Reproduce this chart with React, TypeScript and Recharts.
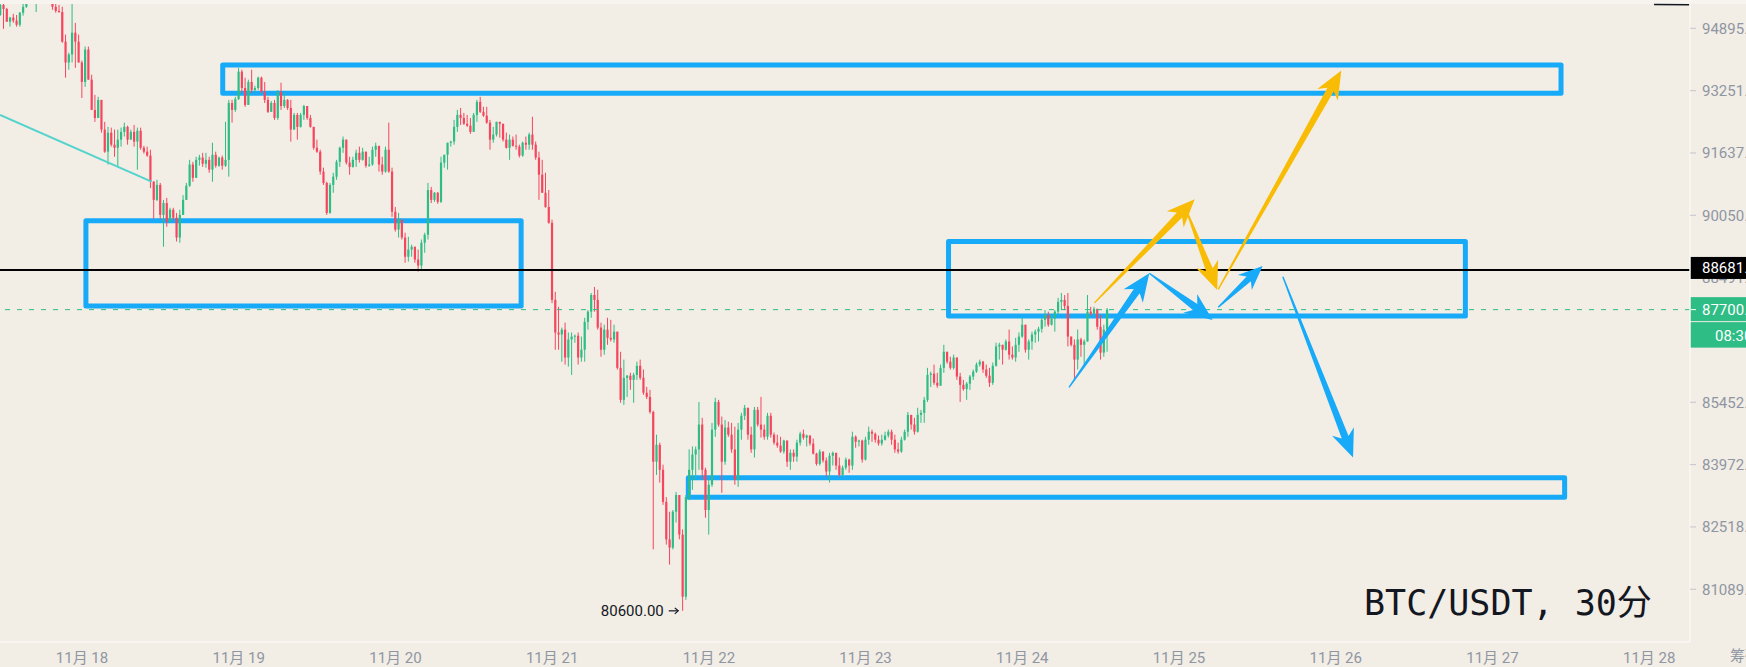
import {
  ComposedChart,
  Bar,
  XAxis,
  YAxis,
  ReferenceLine,
  ReferenceArea,
  ReferenceDot,
} from "recharts";

type Ohlc = [number, number, number, number]; // open, high, low, close

// 30分 K线, bar 0 = 11月18 00:00 (the first 25 bars are the end of 11月17)
const FIRST_BAR = -25;

const nov17: Ohlc[] = [
  [95250, 95570, 95230, 95520], [95520, 95550, 94880, 95410], [95410, 95440, 95070, 95070],
  [95070, 95200, 94940, 95180], [95180, 95280, 95040, 95100], [95100, 95250, 94940, 94990],
  [94990, 95330, 94940, 95310], [95310, 95570, 95230, 95470], [95470, 95650, 95440, 95600],
  [95600, 95920, 95570, 95810], [95810, 95970, 95700, 95760], [95760, 95970, 95330, 95860],
  [95860, 96080, 95780, 95970], [95970, 96050, 95730, 95840], [95840, 96020, 95760, 95920],
  [95920, 95970, 95650, 95730], [95730, 95810, 95390, 95470], [95470, 95570, 95310, 95360],
  [95360, 95520, 95310, 95330], [95330, 95470, 94510, 94540], [94540, 94730, 93590, 93990],
  [93990, 94250, 93800, 94200], [94200, 95650, 93990, 94780], [94780, 95040, 93850, 94540],
  [94540, 94730, 93990, 93990],
];

const nov18: Ohlc[] = [
  [93990, 94040, 93060, 93480], [93480, 94410, 93350, 94330], [94330, 94410, 93540, 93540],
  [93540, 93670, 92750, 92750], [92750, 93140, 92440, 92540], [92540, 93090, 92540, 93010],
  [93010, 93010, 92160, 92240], [92240, 92440, 91640, 91670], [91670, 92310, 91340, 92160],
  [92160, 92290, 91800, 91850], [91850, 92240, 91540, 91770], [91770, 92240, 91280, 91980],
  [91980, 92290, 91800, 92180], [92180, 92420, 92060, 92310], [92310, 92340, 91850, 91980],
  [91980, 92240, 91980, 92180], [92180, 92360, 91800, 91930], [91930, 92290, 91210, 92210],
  [92210, 92290, 91720, 91770], [91770, 91820, 91620, 91670], [91670, 91800, 91540, 91570],
  [91570, 91720, 90740, 90900], [90900, 90920, 89960, 90440], [90440, 90950, 90410, 90820],
  [90820, 90870, 89940, 90060], [90060, 90440, 89260, 90360], [90360, 90490, 89760, 89890],
  [89890, 90240, 89890, 90190], [90190, 90240, 89940, 89990], [89990, 90110, 89390, 89490],
  [89490, 90190, 89360, 90060], [90060, 90560, 90060, 90440], [90440, 90870, 90440, 90800],
  [90800, 91460, 90770, 91340], [91340, 91410, 90900, 91000], [91000, 91540, 91000, 91460],
  [91460, 91590, 91310, 91520], [91520, 91640, 91280, 91360], [91360, 91640, 91260, 91460],
  [91460, 91540, 91130, 91210], [91210, 91900, 90900, 91590], [91590, 91670, 91260, 91310],
  [91310, 91540, 91280, 91520], [91520, 91570, 91210, 91310], [91310, 92440, 91280, 91460],
  [91460, 93010, 91030, 92930], [92930, 93010, 92420, 92750], [92750, 93090, 92700, 93030],
];

const nov19: Ohlc[] = [
  [93030, 93850, 93010, 93750], [93750, 93800, 93190, 93320], [93320, 93590, 92830, 92880],
  [92880, 93540, 92880, 93480], [93480, 93800, 93190, 93270], [93270, 93380, 93220, 93320],
  [93320, 93620, 93270, 93590], [93590, 93620, 93190, 93220], [93220, 93480, 92930, 93010],
  [93010, 93090, 92670, 92700], [92700, 92980, 92700, 92930], [92930, 93010, 92490, 92540],
  [92540, 93270, 92490, 93220], [93220, 93460, 92750, 92850], [92850, 93190, 92800, 93010],
  [93010, 93030, 92750, 92800], [92800, 93010, 91930, 92240], [92240, 92670, 92240, 92620],
  [92620, 92670, 91980, 92310], [92310, 92670, 92290, 92620], [92620, 92880, 92490, 92850],
  [92850, 92850, 92490, 92540], [92540, 92620, 92290, 92310], [92310, 92310, 91720, 91770],
  [91770, 91980, 91640, 91670], [91670, 91720, 91080, 91160], [91160, 91260, 90820, 90870],
  [90870, 90900, 90060, 90110], [90110, 90870, 90090, 90820], [90820, 91130, 90620, 91030],
  [91030, 91460, 90950, 91410], [91410, 91800, 91280, 91770], [91770, 92060, 91640, 91980],
  [91980, 91980, 91340, 91390], [91390, 91540, 91080, 91280], [91280, 91540, 91260, 91460],
  [91460, 91720, 91280, 91640], [91640, 91800, 91390, 91460], [91460, 91770, 91440, 91670],
  [91670, 91670, 91260, 91310], [91310, 91540, 91280, 91340], [91340, 91800, 91310, 91720],
  [91720, 91900, 91540, 91820], [91820, 91820, 91160, 91340], [91340, 91540, 91080, 91160],
  [91160, 91800, 91130, 91720], [91720, 92420, 91130, 91160], [91160, 91260, 90010, 90140],
];

const nov20: Ohlc[] = [
  [90140, 90260, 89640, 89690], [89690, 90110, 89490, 89940], [89940, 89940, 89440, 89490],
  [89490, 89610, 88860, 89010], [89010, 89510, 88890, 89190], [89190, 89310, 89010, 89260],
  [89260, 89260, 88860, 88940], [88940, 89190, 88640, 88790], [88790, 89440, 88690, 89360],
  [89360, 89610, 89110, 89560], [89560, 90870, 89440, 90690], [90690, 90770, 90360, 90440],
  [90440, 90640, 90390, 90620], [90620, 90640, 90340, 90390], [90390, 91540, 90360, 91390],
  [91390, 91590, 91260, 91590], [91590, 91900, 91210, 91900], [91900, 91950, 91800, 91930],
  [91930, 92490, 91850, 92310], [92310, 92750, 92180, 92620], [92620, 92800, 92360, 92540],
  [92540, 92670, 92360, 92390], [92390, 92620, 92310, 92340], [92340, 92540, 92130, 92180],
  [92180, 92670, 92180, 92620], [92620, 93010, 92440, 92960], [92960, 93090, 92670, 92700],
  [92700, 92830, 92570, 92600], [92600, 92830, 92390, 92420], [92420, 92490, 91720, 91980],
  [91980, 92310, 91900, 92110], [92110, 92440, 92060, 92440], [92440, 92440, 92030, 92390],
  [92390, 92390, 91930, 91980], [91980, 92160, 91750, 91770], [91770, 92110, 91460, 91980],
  [91980, 92060, 91800, 91820], [91820, 92110, 91720, 91800], [91800, 91850, 91520, 91570],
  [91570, 91930, 91540, 91900], [91900, 92060, 91720, 91850], [91850, 92160, 91720, 92110],
  [92110, 92570, 91720, 91850], [91850, 91930, 91460, 91520], [91520, 91670, 90440, 91080],
  [91080, 91460, 90620, 90620], [90620, 91130, 90240, 90260], [90260, 90690, 89840, 89860],
];

const nov21: Ohlc[] = [
  [89860, 89940, 87860, 87940], [87940, 88140, 86720, 87140], [87140, 87770, 86720, 87090],
  [87090, 87260, 86430, 87210], [87210, 87380, 86360, 86530], [86530, 87140, 86310, 86970],
  [86970, 87140, 86110, 87040], [87040, 87090, 86890, 87060], [87060, 87140, 86360, 86530],
  [86530, 87040, 86430, 86720], [86720, 87500, 86430, 87400], [87400, 87690, 87210, 87650],
  [87650, 88110, 87500, 88060], [88060, 88260, 87650, 87940], [87940, 88190, 87210, 87260],
  [87260, 87380, 86550, 86720], [86720, 87330, 86600, 87210], [87210, 87500, 86840, 87010],
  [87010, 87450, 86920, 86970], [86970, 87330, 86890, 87160], [87160, 87160, 86240, 86280],
  [86280, 86670, 85440, 85510], [85510, 86480, 85390, 86040], [86040, 86110, 85580, 86090],
  [86090, 86160, 85750, 85990], [85990, 86160, 85440, 86110], [86110, 86430, 85990, 86330],
  [86330, 86480, 85990, 86040], [86040, 86240, 85630, 85680], [85680, 85820, 85530, 85580],
  [85580, 85750, 85180, 85220], [85220, 85250, 82000, 84040], [84040, 84680, 83730, 84440],
  [84440, 84490, 83550, 83850], [83850, 83970, 83030, 83100], [83100, 83210, 82110, 82230],
  [82230, 82870, 81650, 82040], [82040, 82910, 82000, 82870], [82870, 83330, 82620, 83260],
  [83260, 83260, 82230, 82340], [82340, 82460, 80600, 80920], [80920, 83260, 80850, 83210],
  [83210, 84330, 83140, 83850], [83850, 84400, 83380, 84210], [84210, 84400, 83620, 84330],
  [84330, 85460, 83850, 84920], [84920, 85080, 83620, 83850], [83850, 83900, 82730, 82910],
];

const nov22: Ohlc[] = [
  [82910, 83620, 82340, 83500], [83500, 84960, 83450, 84800], [84800, 85560, 84630, 85460],
  [85460, 85510, 84870, 84920], [84920, 85110, 83310, 84040], [84040, 85030, 83970, 84850],
  [84850, 84990, 84630, 84680], [84680, 84960, 84250, 84330], [84330, 84870, 83500, 83620],
  [83620, 84960, 83450, 84800], [84800, 85200, 84560, 85130], [85130, 85390, 85030, 85320],
  [85320, 85320, 84560, 84680], [84680, 84870, 84250, 84330], [84330, 85340, 84140, 85270],
  [85270, 85340, 84870, 84920], [84920, 85580, 84610, 84800], [84800, 84920, 84560, 84630],
  [84630, 85200, 84560, 85130], [85130, 85200, 84610, 84680], [84680, 84730, 84440, 84490],
  [84490, 84680, 84370, 84420], [84420, 84630, 84250, 84280], [84280, 84560, 84230, 84540],
  [84540, 84540, 83920, 84040], [84040, 84330, 83850, 84250], [84250, 84330, 84040, 84160],
  [84160, 84560, 84040, 84490], [84490, 84750, 84420, 84700], [84700, 84800, 84560, 84610],
  [84610, 84680, 84400, 84660], [84660, 84660, 84420, 84470], [84470, 84590, 84210, 84230],
  [84230, 84250, 83950, 83990], [83990, 84330, 83950, 84280], [84280, 84280, 84020, 84070],
  [84070, 84140, 83690, 83810], [83810, 84250, 83550, 84180], [84180, 84280, 83950, 84250],
  [84250, 84250, 83850, 83950], [83950, 84140, 83690, 83730], [83730, 83950, 83690, 83900],
  [83900, 84140, 83850, 84090], [84090, 84110, 83780, 83950], [83950, 84750, 83850, 84630],
  [84630, 84660, 84370, 84510], [84510, 84560, 84400, 84540], [84540, 84560, 84020, 84090],
];

const nov23: Ohlc[] = [
  [84090, 84630, 84070, 84560], [84560, 84870, 84440, 84750], [84750, 84800, 84510, 84700],
  [84700, 84730, 84490, 84560], [84560, 84660, 84420, 84470], [84470, 84680, 84420, 84560],
  [84560, 84750, 84540, 84660], [84660, 84800, 84610, 84750], [84750, 84800, 84440, 84560],
  [84560, 84680, 84250, 84330], [84330, 84490, 84230, 84280], [84280, 84630, 84250, 84560],
  [84560, 84800, 84540, 84750], [84750, 85220, 84630, 85150], [85150, 85150, 84800, 84920],
  [84920, 85080, 84680, 84750], [84750, 85320, 84730, 85150], [85150, 85270, 84960, 85200],
  [85200, 85580, 84960, 85510], [85510, 86280, 85460, 86110], [86110, 86190, 85820, 86140],
  [86140, 86360, 85870, 85920], [85920, 86160, 85800, 85850], [85850, 86360, 85850, 86280],
  [86280, 86840, 86160, 86670], [86670, 86670, 86380, 86430], [86430, 86550, 86240, 86280],
  [86280, 86600, 86240, 86530], [86530, 86530, 85990, 86070], [86070, 86160, 85460, 85870],
  [85870, 85990, 85730, 85770], [85770, 85940, 85510, 85900], [85900, 86110, 85750, 86070],
  [86070, 86240, 85990, 86190], [86190, 86410, 86160, 86360], [86360, 86480, 86310, 86430],
  [86430, 86450, 86160, 86240], [86240, 86360, 86040, 86090], [86090, 86280, 85820, 85920],
  [85920, 86410, 85870, 86330], [86330, 86890, 86310, 86800], [86800, 86890, 86480, 86840],
  [86840, 86840, 86360, 86720], [86720, 86970, 86700, 86920], [86920, 87210, 86480, 86600],
  [86600, 86800, 86480, 86530], [86530, 87010, 86430, 86840], [86840, 87140, 86670, 87040],
];

const nov24: Ohlc[] = [
  [87040, 87500, 87010, 87330], [87330, 87330, 86650, 86720], [86720, 86970, 86480, 86920],
  [86920, 87160, 86720, 87090], [87090, 87210, 86890, 87160], [87160, 87280, 86920, 87230],
  [87230, 87500, 87140, 87450], [87450, 87690, 87280, 87570], [87570, 87650, 87280, 87330],
  [87330, 87570, 87310, 87480], [87480, 87690, 87160, 87650], [87650, 87990, 87570, 87890],
  [87890, 88110, 87690, 87940], [87940, 88060, 87690, 87790], [87790, 88110, 86800, 87040],
  [87040, 87040, 86800, 86840], [86840, 86970, 85990, 86480], [86480, 87210, 86240, 86970],
  [86970, 87010, 86550, 86840], [86840, 86970, 86360, 86920], [86920, 88060, 86920, 87650],
  [87650, 87770, 87550, 87600], [87600, 87770, 87570, 87720], [87720, 87720, 87210, 87280],
  [87280, 87570, 86480, 86650], [86650, 87330, 86550, 87210], [87210, 87740, 86670, 87700],
];

const dayTicks = [0, 48, 96, 144, 192, 240, 288, 336, 384, 432, 480];
const dayLabels = [
  "11月 18", "11月 19", "11月 20", "11月 21", "11月 22", "11月 23",
  "11月 24", "11月 25", "11月 26", "11月 27", "11月 28",
];
const priceTicks = [94895, 93251, 91637, 90050, 88491, 86958, 85452, 83972, 82518, 81089];
// ticks sitting under the price tags on the right
const hiddenTicks = [86958];
const halfHiddenTicks = [88491];

const markedLevel = 88681;
const lastPrice = 87700;
const countdown = "08:30";
const lowBar = 184;
const lowPrice = 80600;

// rectangles: [from bar, to bar, upper price, lower price]
const zones = [
  [43.1, 453.0, 93924, 93182],
  [1.2, 134.5, 89913, 87789],
  [265.4, 423.7, 89390, 87544],
  [185.7, 454.1, 83665, 83207],
];

// arrows: [bar, price] of tail then tip
const blueArrows = [
  [302.3, 85810, 326.9, 88600],
  [326.9, 88600, 346.3, 87446],
  [348.0, 87757, 361.6, 88779],
  [367.8, 88513, 389.3, 84138],
];
const yellowArrows = [
  [310.1, 87866, 340.8, 90454],
  [338.1, 90210, 347.7, 88184],
  [348.0, 88201, 385.7, 93780],
];
const trendLine = [-25.1, 92617, 21.3, 90902];
const cornerLine = [481.5, 95532, 492.3, 95522];

const W = 1746;
const H = 667;
const BG = "#f2ede5";
const UP = "#2ebd85";
const DOWN = "#f6465d";
const BLUE = "#17aaf8";
const YELLOW = "#f9bc04";
const AXIS_TEXT = "#8f96a3";
const FONT = "Roboto, 'Noto Sans CJK SC', sans-serif";

const data = [...nov17, ...nov18, ...nov19, ...nov20, ...nov21, ...nov22, ...nov23, ...nov24].map(
  ([o, h, l, c], i) => ({ t: FIRST_BAR + i, o, h, l, c, range: [l, h] })
);

const Candle = (props: any) => {
  const { x, y, width, height, payload } = props;
  if (!payload || !isFinite(y) || !isFinite(height)) return null;
  const { o, h, l, c } = payload;
  const cx = x + width / 2;
  const lh = Math.log(h);
  const span = lh - Math.log(l);
  const py = (p: number) => (span > 0 ? y + (height * (lh - Math.log(p))) / span : y);
  const top = py(Math.max(o, c));
  const bottom = py(Math.min(o, c));
  const color = c >= o ? UP : DOWN;
  return (
    <g>
      <line x1={cx} x2={cx} y1={y} y2={y + height} stroke={color} strokeWidth={1} />
      <rect x={cx - 1.1} y={top} width={2.2} height={Math.max(bottom - top, 0.8)} fill={color} />
    </g>
  );
};

const PriceTick = (props: any) => {
  const { x, y, payload } = props;
  const v = payload.value as number;
  if (hiddenTicks.includes(v)) return null;
  const half = halfHiddenTicks.includes(v);
  const id = `tick-clip-${v}`;
  return (
    <g>
      {half && (
        <defs>
          <clipPath id={id}>
            <rect x={x - 20} y={y + 1.4} width={80} height={20} />
          </clipPath>
        </defs>
      )}
      {!half && <line x1={x - 12} x2={x - 6} y1={y} y2={y} stroke="#c3c6cc" strokeWidth={1} />}
      <text
        x={x}
        y={y}
        dy="0.36em"
        fill={AXIS_TEXT}
        fontSize={15}
        fontFamily={FONT}
        clipPath={half ? `url(#${id})` : undefined}
      >
        {v.toFixed(2)}
      </text>
    </g>
  );
};

const arrowShape = (color: string) => (p: any) => {
  const { x1, y1, x2, y2 } = p;
  const dx = x2 - x1;
  const dy = y2 - y1;
  const len = Math.hypot(dx, dy) || 1;
  const ux = dx / len;
  const uy = dy / len;
  const nx = -uy;
  const ny = ux;
  const head = Math.min(28, len * 0.4);
  const wing = head * 0.42;
  const neck = Math.max(1.2, head * 0.13);
  const at = (back: number, side: number) =>
    `${x2 - ux * back + nx * side},${y2 - uy * back + ny * side}`;
  const points = [
    `${x1 + nx * 0.7},${y1 + ny * 0.7}`,
    at(head * 0.78, neck),
    at(head, wing),
    `${x2},${y2}`,
    at(head, -wing),
    at(head * 0.78, -neck),
    `${x1 - nx * 0.7},${y1 - ny * 0.7}`,
  ].join(" ");
  return <polygon points={points} fill={color} />;
};

const MarkedTag = (props: any) => {
  const { x, y, width } = props.viewBox;
  const left = x + width;
  return (
    <g>
      <rect x={left} y={y - 13} width={60} height={22} fill="#000" />
      <text x={left + 12} y={y - 2} dy="0.36em" fill="#fff" fontSize={15} fontFamily={FONT}>
        {markedLevel.toFixed(2)}
      </text>
    </g>
  );
};

const LastTag = (props: any) => {
  const { x, y, width } = props.viewBox;
  const left = x + width;
  return (
    <g>
      <rect x={left} y={y - 12.5} width={60} height={24} fill={UP} />
      <line x1={left + 1} x2={left + 6} y1={y} y2={y} stroke="#fff" strokeWidth={1} />
      <text x={left + 12} y={y} dy="0.36em" fill="#fff" fontSize={15} fontFamily={FONT}>
        {lastPrice.toFixed(2)}
      </text>
      <rect x={left} y={y + 12.5} width={60} height={25.5} fill={UP} />
      <text x={left + 25} y={y + 25.5} dy="0.36em" fill="#fff" fontSize={15} fontFamily={FONT}>
        {countdown}
      </text>
    </g>
  );
};

const LowTag = (props: any) => {
  const { x, y } = props.viewBox;
  return (
    <g>
      <text x={x - 19} y={y} dy="0.36em" textAnchor="end" fill="#131722" fontSize={15} fontFamily={FONT}>
        {lowPrice.toFixed(2)}
      </text>
      <line x1={x - 14} x2={x - 5} y1={y} y2={y} stroke="#131722" strokeWidth={1.2} />
      <path d={`M${x - 8},${y - 3} L${x - 4.5},${y} L${x - 8},${y + 3}`} fill="none" stroke="#131722" strokeWidth={1.2} />
    </g>
  );
};

export default function App() {
  return (
    <div
      style={{
        position: "absolute",
        left: 0,
        top: 0,
        width: W,
        height: H,
        background: BG,
        overflow: "hidden",
      }}
    >
      <div style={{ position: "absolute", left: 0, top: 0, width: W, height: 4, background: "#f7f4ef" }} />
      <ComposedChart
        width={W}
        height={H}
        data={data}
        margin={{ top: 4, right: 0, bottom: 0, left: 0 }}
        style={{ position: "absolute", left: 0, top: 0 }}
      >
        <XAxis
          dataKey="t"
          type="number"
          domain={[-25.115, 492.5]}
          allowDataOverflow
          ticks={dayTicks}
          interval={0}
          tickFormatter={(v: number) => dayLabels[dayTicks.indexOf(v)] ?? ""}
          height={25}
          tickLine={false}
          tickMargin={4}
          axisLine={{ stroke: "#fbf9f6", strokeWidth: 1.5 }}
          tick={{ fill: AXIS_TEXT, fontSize: 15, fontFamily: FONT }}
        />
        <YAxis
          orientation="right"
          type="number"
          scale="log"
          domain={[79899, 95544]}
          allowDataOverflow
          ticks={priceTicks}
          interval={0}
          width={56}
          tickSize={6}
          tickMargin={6}
          tickLine={false}
          axisLine={{ stroke: "#fbf9f6", strokeWidth: 1.5 }}
          tick={PriceTick}
        />
        <Bar dataKey="range" shape={Candle} barSize={3} isAnimationActive={false} />
        <ReferenceLine
          segment={[{ x: trendLine[0], y: trendLine[1] }, { x: trendLine[2], y: trendLine[3] }]}
          stroke="#52d4cc"
          strokeWidth={2}
          ifOverflow="visible"
        />
        <ReferenceLine
          segment={[{ x: cornerLine[0], y: cornerLine[1] }, { x: cornerLine[2], y: cornerLine[3] }]}
          stroke="#131722"
          strokeWidth={1.5}
          ifOverflow="visible"
        />
        <ReferenceLine
          y={lastPrice}
          stroke={UP}
          strokeDasharray="5 7"
          strokeWidth={1}
          ifOverflow="visible"
          label={(p: any) => <LastTag {...p} />}
        />
        <ReferenceLine
          y={markedLevel}
          stroke="#000"
          strokeWidth={2}
          ifOverflow="visible"
          label={(p: any) => <MarkedTag {...p} />}
        />
        {zones.map(([from, to, upper, lower], i) => (
          <ReferenceArea
            key={`zone-${i}`}
            x1={from}
            x2={to}
            y1={lower}
            y2={upper}
            ifOverflow="visible"
            fill="none"
            fillOpacity={0}
            stroke={BLUE}
            strokeWidth={5}
            strokeLinejoin="round"
          />
        ))}
        {yellowArrows.map(([t1, p1, t2, p2], i) => (
          <ReferenceLine
            key={`ya-${i}`}
            segment={[{ x: t1, y: p1 }, { x: t2, y: p2 }]}
            ifOverflow="visible"
            shape={arrowShape(YELLOW)}
          />
        ))}
        {blueArrows.map(([t1, p1, t2, p2], i) => (
          <ReferenceLine
            key={`ba-${i}`}
            segment={[{ x: t1, y: p1 }, { x: t2, y: p2 }]}
            ifOverflow="visible"
            shape={arrowShape(BLUE)}
          />
        ))}
        <ReferenceDot
          x={lowBar}
          y={lowPrice}
          r={0}
          fill="none"
          stroke="none"
          ifOverflow="visible"
          label={(p: any) => <LowTag {...p} />}
        />
      </ComposedChart>
      <svg
        width={W}
        height={H}
        style={{ position: "absolute", left: 0, top: 0, pointerEvents: "none" }}
      >
        <text
          x={1364}
          y={615}
          fontSize={35}
          fontFamily="'DejaVu Sans Mono', 'Noto Sans CJK SC', monospace"
          fill="#131722"
        >
          BTC/USDT, 30分
        </text>
        <text x={1730} y={661} fontSize={15} fontFamily={FONT} fill={AXIS_TEXT}>
          筹码
        </text>
      </svg>
    </div>
  );
}
